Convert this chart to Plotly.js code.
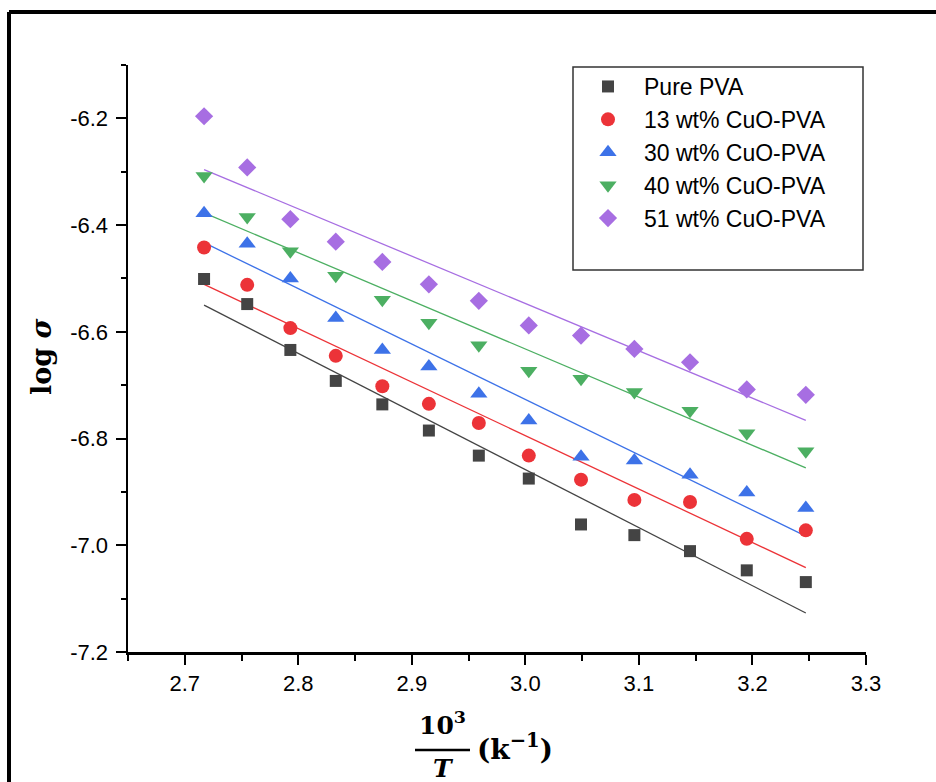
<!DOCTYPE html>
<html>
<head>
<meta charset="utf-8">
<script src="https://cdn.plot.ly/plotly-3.0.1.min.js"></script>
<style>html,body{margin:0;padding:0;background:#fff;}#chart{width:936px;height:782px;}</style>
</head>
<body>
<div id="chart"></div>
<script>
// ---- data ----
const invT = [2.717, 2.755, 2.793, 2.833, 2.874, 2.915, 2.959, 3.003, 3.049, 3.096, 3.145, 3.195, 3.247];
const seriesNames = ['Pure PVA', '13 wt% CuO-PVA', '30 wt% CuO-PVA', '40 wt% CuO-PVA', '51 wt% CuO-PVA'];
const purePVA = [-6.501, -6.548, -6.634, -6.692, -6.736, -6.785, -6.832, -6.875, -6.961, -6.981, -7.011, -7.047, -7.069];
const cuo13   = [-6.442, -6.512, -6.593, -6.645, -6.702, -6.735, -6.771, -6.832, -6.877, -6.915, -6.919, -6.988, -6.972];
const cuo30   = [-6.378, -6.435, -6.500, -6.574, -6.634, -6.665, -6.716, -6.766, -6.834, -6.841, -6.868, -6.901, -6.930];
const cuo40   = [-6.308, -6.385, -6.449, -6.495, -6.540, -6.583, -6.625, -6.673, -6.688, -6.713, -6.748, -6.790, -6.824];
const cuo51   = [-6.196, -6.292, -6.389, -6.431, -6.469, -6.511, -6.542, -6.588, -6.607, -6.632, -6.657, -6.708, -6.718];
// linear-fit lines: x ends and y values at those ends
const fitX = [2.717, 3.247];
const fitPure = [-6.550, -7.127];
const fit13   = [-6.511, -7.042];
const fit30   = [-6.433, -6.983];
const fit40   = [-6.377, -6.855];
const fit51   = [-6.296, -6.766];
// tick labels
const xTickVals = [2.7, 2.8, 2.9, 3.0, 3.1, 3.2, 3.3];
const xTickText = ['2.7', '2.8', '2.9', '3.0', '3.1', '3.2', '3.3'];
const yTickVals = [-7.2, -7.0, -6.8, -6.6, -6.4, -6.2];
const yTickText = ['-7.2', '-7.0', '-6.8', '-6.6', '-6.4', '-6.2'];

// ---- styles ----
const colors = ['#444444', '#ec3338', '#3d72e8', '#4caf62', '#a76ee2'];
const symbols = ['square', 'circle', 'triangle-up', 'triangle-down', 'diamond'];
const sizes = [12, 14, 15, 15, 14];
const ys = [purePVA, cuo13, cuo30, cuo40, cuo51];
const fits = [fitPure, fit13, fit30, fit40, fit51];

const traces = [];
for (let i = 0; i < ys.length; i++) {
  traces.push({
    x: fitX, y: fits[i], type: 'scatter', mode: 'lines',
    line: {color: colors[i], width: 1.3}, showlegend: false, hoverinfo: 'skip'
  });
}
for (let i = 0; i < ys.length; i++) {
  traces.push({
    x: invT, y: ys[i], type: 'scatter', mode: 'markers', name: seriesNames[i],
    marker: {color: colors[i], symbol: symbols[i], size: sizes[i], line: {width: 0}}
  });
}

// pixel -> paper helpers for decorations
const W = 936, H = 782, L = 128, R = 70, T = 65, B = 130;
const pw = W - L - R, ph = H - T - B;
const px = v => (v - L) / pw;
const py = v => (H - B - v) / ph;

const serif = 'DejaVu Serif, Liberation Serif, serif';

const layout = {
  width: W, height: H,
  margin: {l: L, r: R, t: T, b: B},
  paper_bgcolor: '#ffffff', plot_bgcolor: '#ffffff',
  font: {family: 'Liberation Sans, Arial, sans-serif', color: '#000'},
  xaxis: {
    range: [2.65, 3.3], showgrid: false, zeroline: false,
    showline: true, linecolor: '#000', linewidth: 2.5,
    tickmode: 'array', tickvals: xTickVals, ticktext: xTickText,
    ticks: 'outside', ticklen: 10, tickwidth: 2, tickcolor: '#000',
    tickfont: {size: 22, color: '#000'}, ticklabelstandoff: 0,
    minor: {tick0: 2.65, dtick: 0.1, ticks: 'outside', ticklen: 6, tickwidth: 2, tickcolor: '#000', showgrid: false}
  },
  yaxis: {
    range: [-7.2, -6.1], showgrid: false, zeroline: false,
    showline: true, linecolor: '#000', linewidth: 2.5,
    tickmode: 'array', tickvals: yTickVals, ticktext: yTickText,
    ticks: 'outside', ticklen: 10, tickwidth: 2, tickcolor: '#000',
    tickfont: {size: 22, color: '#000'}, ticklabelstandoff: 3,
    minor: {tick0: -7.1, dtick: 0.2, ticks: 'outside', ticklen: 5, tickwidth: 2, tickcolor: '#000', showgrid: false}
  },
  showlegend: true,
  legend: {
    x: px(572), y: py(65), xanchor: 'left', yanchor: 'top',
    bgcolor: 'rgba(0,0,0,0)', borderwidth: 0,
    font: {size: 23, color: '#000', family: 'Liberation Sans, Arial, sans-serif'},
    itemwidth: 62, tracegroupgap: 0
  },
  shapes: [
    // legend frame
    {type: 'rect', xref: 'paper', yref: 'paper', x0: px(573), x1: px(863), y0: py(270), y1: py(67),
     line: {color: '#333', width: 1.5}, fillcolor: 'rgba(0,0,0,0)'},
    // outer picture frame (top and left edges)
    {type: 'line', xref: 'paper', yref: 'paper', x0: px(9), x1: px(940), y0: py(12), y1: py(12), line: {color: '#000', width: 4}},
    {type: 'line', xref: 'paper', yref: 'paper', x0: px(9), x1: px(9), y0: py(12), y1: py(790), line: {color: '#000', width: 4}},
    // fraction bar in x title
    {type: 'line', xref: 'paper', yref: 'paper', x0: px(415), x1: px(470), y0: py(750), y1: py(750), line: {color: '#000', width: 2.5}}
  ],
  annotations: [
    {text: '<b>log <i>σ</i></b>', xref: 'paper', yref: 'paper', x: px(41), y: py(357), textangle: -90,
     showarrow: false, xanchor: 'center', yanchor: 'middle', font: {family: serif, size: 27, color: '#000'}},
    {text: '<b>10<sup>3</sup></b>', xref: 'paper', yref: 'paper', x: px(442), y: py(723),
     showarrow: false, xanchor: 'center', yanchor: 'middle', font: {family: serif, size: 25, color: '#000'}},
    {text: '<b><i>T</i></b>', xref: 'paper', yref: 'paper', x: px(443), y: py(768),
     showarrow: false, xanchor: 'center', yanchor: 'middle', font: {family: serif, size: 25, color: '#000'}},
    {text: '<b>(k<sup>−1</sup>)</b>', xref: 'paper', yref: 'paper', x: px(475), y: py(747),
     showarrow: false, xanchor: 'left', yanchor: 'middle', font: {family: serif, size: 28, color: '#000'}}
  ]
};

Plotly.newPlot('chart', traces, layout, {displayModeBar: false, staticPlot: true});
</script>
</body>
</html>
